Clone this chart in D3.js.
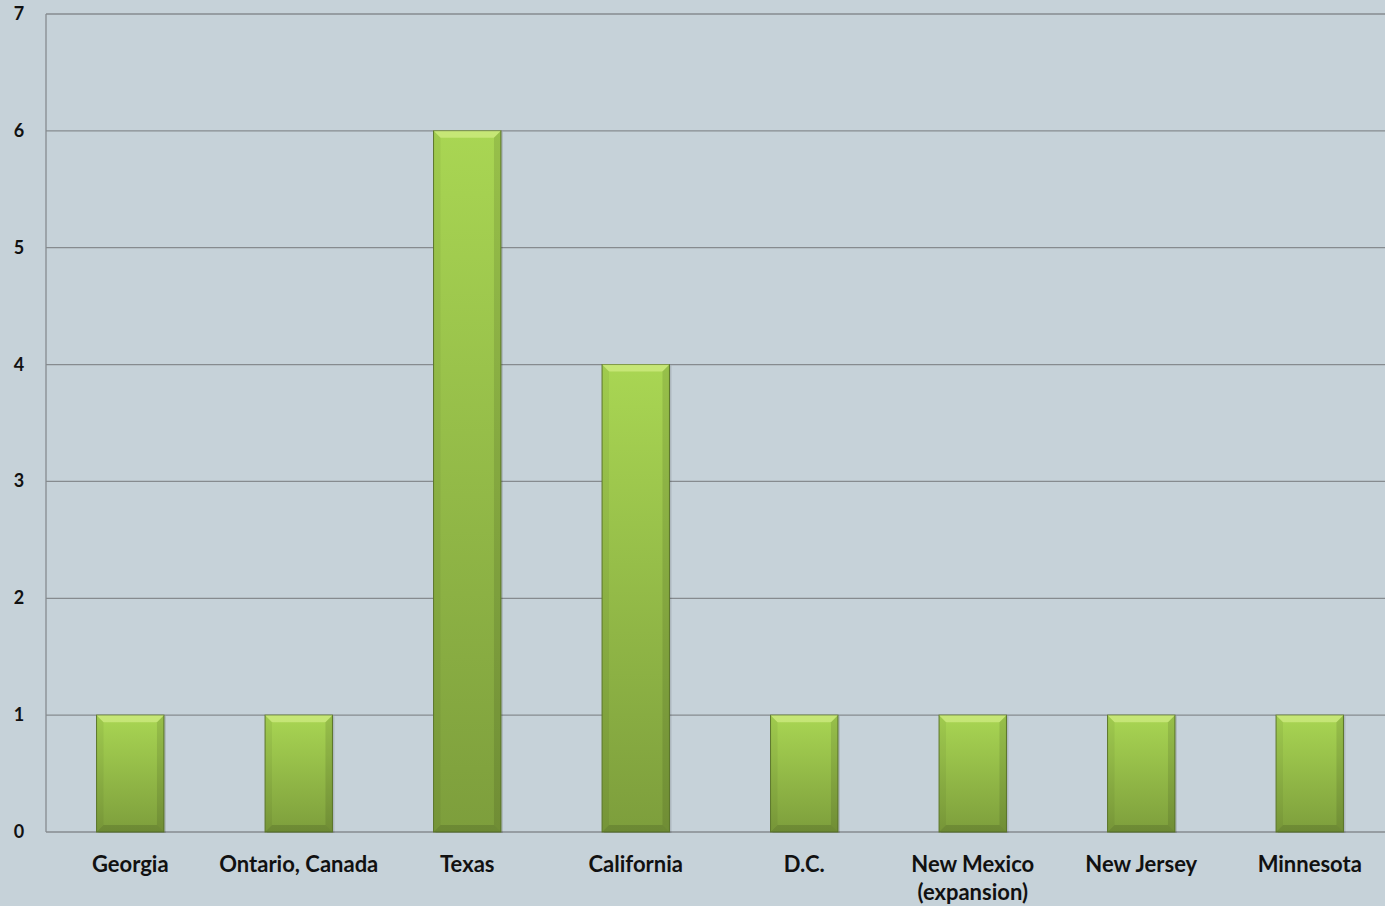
<!DOCTYPE html>
<html>
<head>
<meta charset="utf-8">
<script src="https://cdn.jsdelivr.net/npm/d3@7"></script>
<style>
  body { margin: 0; background: #c6d2d9; }
  svg { display: block; }
</style>
</head>
<body>
<div id="chart"></div>
<script>
const width = 1385;
const height = 906;

const categories = ["Georgia", "Ontario, Canada", "Texas", "California", "D.C.", "New Mexico\n(expansion)", "New Jersey", "Minnesota"];
const values = [1, 1, 6, 4, 1, 1, 1, 1];
const yTicks = [0, 1, 2, 3, 4, 5, 6, 7];

const margin = { top: 14, left: 46, bottom: 74 };
const plotRight = 1394;

const svg = d3.select("#chart")
    .append("svg")
    .attr("width", width)
    .attr("height", height);

svg.append("rect")
    .attr("width", width)
    .attr("height", height)
    .attr("fill", "#c6d2d9");

const x = d3.scaleBand()
    .domain(categories)
    .range([margin.left, plotRight])
    .padding(0);

const y = d3.scaleLinear()
    .domain([0, 7])
    .range([height - margin.bottom, margin.top]);

const defs = svg.append("defs");
const grad = defs.append("linearGradient")
    .attr("id", "barGrad")
    .attr("x1", 0).attr("y1", 0)
    .attr("x2", 0).attr("y2", 1);
grad.append("stop").attr("offset", "0%").attr("stop-color", "#a9d653");
grad.append("stop").attr("offset", "100%").attr("stop-color", "#7d9e3c");

// grid lines
svg.append("g")
    .selectAll("line")
    .data(yTicks)
    .join("line")
    .attr("x1", margin.left)
    .attr("x2", width)
    .attr("y1", d => y(d))
    .attr("y2", d => y(d))
    .attr("stroke", "#868b8f")
    .attr("stroke-width", 1.3);

// y axis line
svg.append("line")
    .attr("x1", margin.left).attr("x2", margin.left)
    .attr("y1", y(7)).attr("y2", y(0))
    .attr("stroke", "#868b8f")
    .attr("stroke-width", 1.3);

// y tick labels
svg.append("g")
    .selectAll("text")
    .data(yTicks)
    .join("text")
    .attr("x", 19)
    .attr("y", d => y(d) + 6)
    .attr("text-anchor", "middle")
    .attr("font-family", "Lato, 'Open Sans', sans-serif")
    .attr("font-weight", "bold")
    .attr("font-size", 18)
    .attr("fill", "#111")
    .text(d => d);

const barW = x.bandwidth() * 0.4;
const bev = 7;

const bars = svg.append("g")
    .selectAll("g")
    .data(categories.map((c, i) => ({ c, v: values[i] })))
    .join("g")
    .attr("transform", d => `translate(${x(d.c) + x.bandwidth() / 2 - barW / 2},${y(d.v)})`);

// soft shadow
bars.append("rect")
    .attr("x", 2)
    .attr("y", 1)
    .attr("width", barW)
    .attr("height", d => y(0) - y(d.v))
    .attr("fill", "#000")
    .attr("opacity", 0.12);

bars.append("rect")
    .attr("width", barW)
    .attr("height", d => y(0) - y(d.v))
    .attr("fill", "url(#barGrad)")
    .attr("stroke", "#5f7a2c")
    .attr("stroke-width", 1);

// bevel: top highlight
bars.append("path")
    .attr("d", `M0,0 L${barW},0 L${barW - bev},${bev} L${bev},${bev} Z`)
    .attr("fill", "#e4f79a")
    .attr("opacity", 0.5);

// bevel: left and right
bars.append("path")
    .attr("d", d => { const h = y(0) - y(d.v); return `M0,0 L${bev},${bev} L${bev},${h - bev} L0,${h} Z`; })
    .attr("fill", "#000")
    .attr("opacity", 0.05);
bars.append("path")
    .attr("d", d => { const h = y(0) - y(d.v); return `M${barW},0 L${barW - bev},${bev} L${barW - bev},${h - bev} L${barW},${h} Z`; })
    .attr("fill", "#000")
    .attr("opacity", 0.1);

// bevel: bottom
bars.append("path")
    .attr("d", d => { const h = y(0) - y(d.v); return `M0,${h} L${bev},${h - bev} L${barW - bev},${h - bev} L${barW},${h} Z`; })
    .attr("fill", "#000")
    .attr("opacity", 0.13);

// category labels
const labels = svg.append("g")
    .selectAll("text")
    .data(categories)
    .join("text")
    .attr("x", d => x(d) + x.bandwidth() / 2)
    .attr("y", 872)
    .attr("text-anchor", "middle")
    .attr("font-family", "Lato, 'Open Sans', sans-serif")
    .attr("font-weight", "bold")
    .attr("font-size", 22)
    .attr("fill", "#111");

labels.selectAll("tspan")
    .data(d => d.split("\n").map(s => ({ s, cx: x(d) + x.bandwidth() / 2 })))
    .join("tspan")
    .attr("x", d => d.cx)
    .attr("dy", (d, i) => i === 0 ? 0 : 28)
    .text(d => d.s);
</script>
</body>
</html>
